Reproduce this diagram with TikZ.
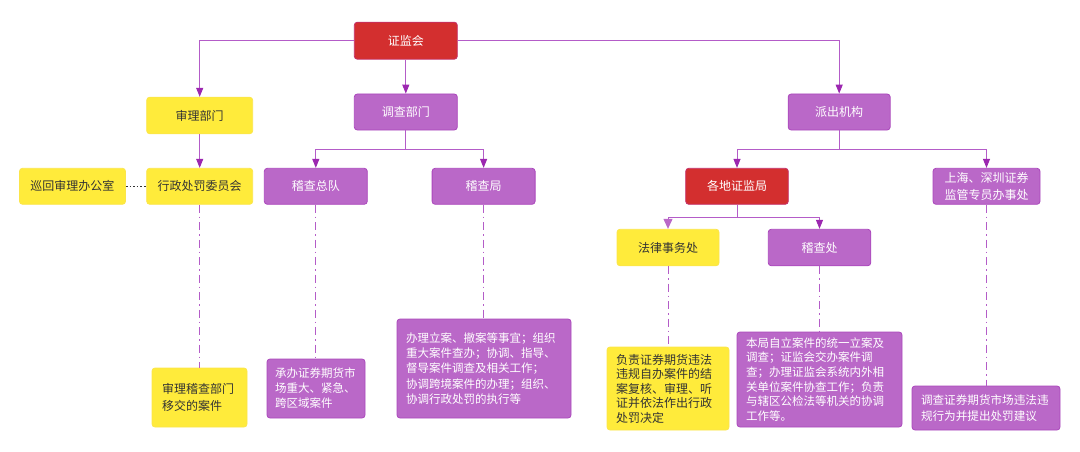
\documentclass[tikz,border=0pt]{standalone}
\usepackage{fontspec}
\newfontfamily\cjk{Noto Sans CJK SC}
\usetikzlibrary{arrows.meta}
\definecolor{ylw}{HTML}{FFEB3B}
\definecolor{ylwb}{HTML}{FBE54A}
\definecolor{ppl}{HTML}{BA68C8}
\definecolor{pplb}{HTML}{AB47BC}
\definecolor{redc}{HTML}{D32F2F}
\definecolor{redb}{HTML}{C4306A}
\definecolor{lnc}{HTML}{B45CC8}
\definecolor{arr}{HTML}{9C27B0}
\definecolor{txtd}{HTML}{333333}
\tikzset{
  box/.style={rounded corners=3pt, line width=0.8pt, inner sep=0pt, align=center,
    font=\cjk\fontsize{12}{15}\selectfont},
  ybox/.style={box, fill=ylw, draw=ylwb, text=txtd},
  pbox/.style={box, fill=ppl, draw=pplb, text=white},
  rbox/.style={box, fill=redc, draw=redb, text=white},
  sz/.style 2 args={minimum width=#1pt, minimum height=#2pt},
  desc/.style={align=left, inner xsep=9pt},
  conn/.style={draw=lnc, line width=1pt, -{Triangle[width=7pt,length=9pt,color=arr,fill=arr]}},
  connl/.style={draw=lnc, line width=1pt, -{Triangle[width=9pt,length=10pt,color=ppl,fill=ppl]}},
  ddot/.style={draw=lnc, line width=1pt, dash pattern=on 8pt off 4pt on 1.5pt off 4pt},
  dotl/.style={draw=txtd, line width=1.6pt, dash pattern=on 1.6pt off 2pt}
}
\begin{document}
\begin{tikzpicture}[x=1pt,y=-1pt]
\useasboundingbox (0,0) rectangle (1080,452);
% top level
\node[rbox, sz={103}{37}] (zjh) at (405.8,40.7) {证监会};
\node[ybox, sz={106}{36.5}] (slbm) at (199.7,115.5) {审理部门};
\node[pbox, sz={103}{36}] (dcbm) at (405.8,112) {调查部门};
\node[pbox, sz={102}{36}] (pcjg) at (839.2,112) {派出机构};
% second row
\node[ybox, sz={106}{36}] (xhsl) at (72.5,186.3) {巡回审理办公室};
\node[ybox, sz={106}{36}] (xzcf) at (199.7,186.3) {行政处罚委员会};
\node[pbox, sz={103}{36}] (jczd) at (315.8,186.3) {稽查总队};
\node[pbox, sz={103}{36}] (jcj) at (483.6,186.3) {稽查局};
\node[rbox, sz={102.6}{36}] (gdzjj) at (737,186.3) {各地证监局};
\node[pbox, sz={107}{36}, font=\cjk\fontsize{12}{17}\selectfont] (shsz) at (986.5,186.3) {上海、深圳证券\\监管专员办事处};
% third row
\node[ybox, sz={102}{36.5}] (flsw) at (668,247.5) {法律事务处};
\node[pbox, sz={102.5}{36.5}] (jcc) at (819.5,247.5) {稽查处};
% description boxes
\node[ybox, desc, inner xsep=10pt, text width=75pt, minimum height=59pt,
  font=\cjk\fontsize{12}{17}\selectfont] (d1) at (199.5,397.5)
  {审理稽查部门\\移交的案件};
\node[pbox, desc, inner xsep=8pt, text width=82pt, minimum height=59pt,
  font=\cjk\fontsize{11.5}{15}\selectfont] (d2) at (316,388.5)
  {承办证券期货市\\场重大、紧急、\\跨区域案件};
\node[pbox, desc, text width=156pt, minimum height=99pt,
  font=\cjk\fontsize{11.5}{15.4}\selectfont] (d3) at (484,368.5)
  {办理立案、撤案等事宜；组织\\重大案件查办；协调、指导、\\督导案件调查及相关工作；\\协调跨境案件的办理；组织、\\协调行政处罚的执行等};
\node[ybox, desc, text width=104pt, minimum height=83pt,
  font=\cjk\fontsize{12}{14.5}\selectfont] (d4) at (668,388.5)
  {负责证券期货违法\\违规自办案件的结\\案复核、审理、听\\证并依法作出行政\\处罚决定};
\node[pbox, desc, text width=147pt, minimum height=95pt,
  font=\cjk\fontsize{11.5}{14.7}\selectfont] (d5) at (819.5,379.5)
  {本局自立案件的统一立案及\\调查；证监会交办案件调\\查；办理证监会系统内外相\\关单位案件协查工作；负责\\与辖区公检法等机关的协调\\工作等。};
\node[pbox, desc, text width=130pt, minimum height=44pt,
  font=\cjk\fontsize{11.6}{16.5}\selectfont] (d6) at (986,408)
  {调查证券期货市场违法违\\规行为并提出处罚建议};
% connectors
\draw[conn] (zjh.west) -| (slbm.north);
\draw[conn] (zjh.east) -| (pcjg.north);
\draw[conn] (zjh.south) -- (dcbm.north);
\draw[conn] (slbm.south) -- (xzcf.north);
\draw[dotl] (xhsl.east) -- (xzcf.west);
\draw[conn] (dcbm.south) -- ++(0,19) -| (jczd.north);
\draw[conn] (dcbm.south) -- ++(0,19) -| (jcj.north);
\draw[conn] (pcjg.south) -- ++(0,19) -| (gdzjj.north);
\draw[conn] (pcjg.south) -- ++(0,19) -| (shsz.north);
\draw[connl] (gdzjj.south) -- ++(0,12.5) -| (flsw.north);
\draw[conn] (gdzjj.south) -- ++(0,12.5) -| (jcc.north);
% dash-dot links
\draw[ddot] (xzcf.south) -- (xzcf.south |- d1.north);
\draw[ddot] (jczd.south) -- (jczd.south |- d2.north);
\draw[ddot] (jcj.south) -- (jcj.south |- d3.north);
\draw[ddot] (flsw.south) -- (flsw.south |- d4.north);
\draw[ddot] (jcc.south) -- (jcc.south |- d5.north);
\draw[ddot] (shsz.south) -- (shsz.south |- d6.north);
\end{tikzpicture}
\end{document}
